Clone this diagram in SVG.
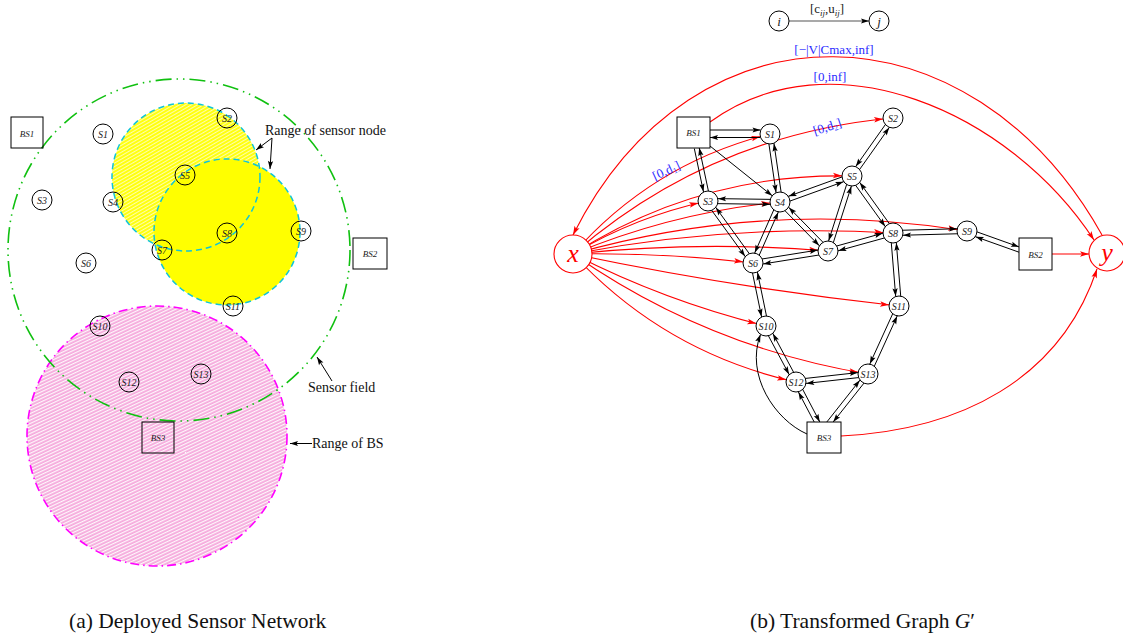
<svg xmlns="http://www.w3.org/2000/svg" width="1123" height="639" viewBox="0 0 1123 639">
<style>
  .nl { font-family: "Liberation Serif", "DejaVu Serif", serif; font-style: italic; font-size: 10px; fill: #222; text-anchor: middle; }
  .bl { font-family: "Liberation Serif", "DejaVu Serif", serif; font-style: italic; font-size: 9px; fill: #222; text-anchor: middle; }
  .leg { font-family: "Liberation Serif", "DejaVu Serif", serif; font-size: 13px; fill: #222; text-anchor: middle; }
  .nc { fill: none; stroke: #000; stroke-width: 1; }
  .ncw { fill: #fff; stroke: #000; stroke-width: 1; }
  .lbl { font-family: "Liberation Serif", "DejaVu Serif", serif; font-size: 14px; fill: #111; }
  .blue { font-family: "Liberation Serif", "DejaVu Serif", serif; font-size: 13px; fill: #2b2bff; text-anchor: middle; }
  .cap { font-family: "Liberation Serif", "DejaVu Serif", serif; font-size: 21.5px; fill: #111; }
  .c { fill: none; stroke: #000; stroke-width: 1; marker-end: url(#ah10); }
  .cr { fill: none; stroke: #000; stroke-width: 1; marker-end: url(#ah); }
  .r { fill: none; stroke: #ff0000; stroke-width: 1.1; marker-end: url(#rh10); }
  .rr { fill: none; stroke: #ff0000; stroke-width: 1.1; marker-end: url(#rh); }
  .xy { font-family: "Liberation Serif", "DejaVu Serif", serif; font-style: italic; font-size: 26px; fill: #ff0000; text-anchor: middle; }
</style>
<defs>
  <marker id="ah" markerUnits="userSpaceOnUse" viewBox="-20 -10 20 20" markerWidth="20" markerHeight="20" refX="0" refY="0" orient="auto" overflow="visible">
    <path d="M0,0 L-8,-2.6 L-6.5,0 L-8,2.6 Z" fill="#000"/>
  </marker>
  <marker id="ah10" markerUnits="userSpaceOnUse" viewBox="-30 -10 30 20" markerWidth="30" markerHeight="20" refX="0" refY="0" orient="auto" overflow="visible">
    <path d="M-10,0 L-18,-2.6 L-16.5,0 L-18,2.6 Z" fill="#000"/>
  </marker>
  <marker id="rh" markerUnits="userSpaceOnUse" viewBox="-20 -10 20 20" markerWidth="20" markerHeight="20" refX="0" refY="0" orient="auto" overflow="visible">
    <path d="M0,0 L-9,-2.8 L-7,0 L-9,2.8 Z" fill="#ff0000"/>
  </marker>
  <marker id="rh10" markerUnits="userSpaceOnUse" viewBox="-30 -10 30 20" markerWidth="30" markerHeight="20" refX="0" refY="0" orient="auto" overflow="visible">
    <path d="M-10,0 L-19,-2.8 L-17,0 L-19,2.8 Z" fill="#ff0000"/>
  </marker>
  <pattern id="yhatch" width="8" height="3" patternUnits="userSpaceOnUse" patternTransform="rotate(-30)">
    <rect width="8" height="3" fill="#ffff10"/>
    <line x1="0" y1="0.5" x2="8" y2="0.5" stroke="#ffffff" stroke-width="0.8" stroke-opacity="0.8"/>
  </pattern>
  <pattern id="phatch" width="8" height="3" patternUnits="userSpaceOnUse" patternTransform="rotate(-25)">
    <rect width="8" height="3" fill="#f5a9dc"/>
    <line x1="0" y1="0.6" x2="8" y2="0.6" stroke="#ffffff" stroke-width="1.2" stroke-opacity="0.9"/>
  </pattern>
</defs>
<rect width="1123" height="639" fill="#fff"/>

<!-- ================= (a) Deployed Sensor Network ================= -->
<g id="ranges">
  <circle cx="157" cy="436" r="130" fill="url(#phatch)"/>
  <circle cx="186" cy="177" r="74" fill="url(#yhatch)"/>
  <circle cx="227" cy="232" r="73" fill="#ffff00"/>
  <circle cx="186" cy="177" r="74" fill="none" stroke="#10c4d8" stroke-width="1.5" stroke-dasharray="6 4"/>
  <circle cx="227" cy="232" r="73" fill="none" stroke="#10c4d8" stroke-width="1.5" stroke-dasharray="6 4"/>
  <circle cx="157" cy="436" r="130" fill="none" stroke="#ff00ff" stroke-width="1.6" stroke-dasharray="9 4 1.5 4"/>
  <circle cx="179" cy="250" r="171" fill="none" stroke="#10c010" stroke-width="1.6" stroke-dasharray="16 5 1.5 5 1.5 5"/>
</g>

<g id="a-BS1"><rect x="11" y="117" width="32" height="31" class="nc"/><text x="27" y="137" class="bl">BS1</text></g>
<g id="a-S1"><circle cx="103" cy="134" r="10" class="nc"/><text x="103" y="137.5" class="nl">S1</text></g>
<g id="a-S2"><circle cx="227" cy="118" r="10" class="nc"/><text x="227" y="121.5" class="nl">S2</text></g>
<g id="a-S3"><circle cx="42" cy="200" r="10" class="nc"/><text x="42" y="203.5" class="nl">S3</text></g>
<g id="a-S4"><circle cx="113" cy="202" r="10" class="nc"/><text x="113" y="205.5" class="nl">S4</text></g>
<g id="a-S5"><circle cx="185" cy="175" r="10" class="nc"/><text x="185" y="178.5" class="nl">S5</text></g>
<g id="a-S6"><circle cx="86" cy="263" r="10" class="nc"/><text x="86" y="266.5" class="nl">S6</text></g>
<g id="a-S7"><circle cx="162" cy="250" r="10" class="nc"/><text x="162" y="253.5" class="nl">S7</text></g>
<g id="a-S8"><circle cx="227" cy="233" r="10" class="nc"/><text x="227" y="236.5" class="nl">S8</text></g>
<g id="a-S9"><circle cx="301" cy="231" r="10" class="nc"/><text x="301" y="234.5" class="nl">S9</text></g>
<g id="a-BS2"><rect x="353" y="238" width="34" height="31" class="nc"/><text x="370" y="257" class="bl">BS2</text></g>
<g id="a-S10"><circle cx="100" cy="326" r="10" class="nc"/><text x="100" y="329.5" class="nl">S10</text></g>
<g id="a-S11"><circle cx="233" cy="306" r="10" class="nc"/><text x="233" y="309.5" class="nl">S11</text></g>
<g id="a-S12"><circle cx="129" cy="382" r="10" class="nc"/><text x="129" y="385.5" class="nl">S12</text></g>
<g id="a-S13"><circle cx="201" cy="374" r="10" class="nc"/><text x="201" y="377.5" class="nl">S13</text></g>
<g id="a-BS3"><rect x="142" y="422" width="32" height="31" class="nc"/><text x="158" y="441" class="bl">BS3</text></g>

<g id="a-annotations">
  <text x="265" y="135" class="lbl">Range of sensor node</text>
  <path d="M272,138 L256,150" class="cr"/>
  <path d="M272,138 L270,169" class="cr"/>
  <text x="308" y="392" class="lbl">Sensor field</text>
  <path d="M332,381 L317,357" class="cr"/>
  <text x="312" y="448" class="lbl">Range of BS</text>
  <path d="M312,443.5 L290,443.5" class="cr"/>
</g>

<!-- ================= (b) Transformed Graph ================= -->
<g id="legend">
  <path d="M789,21 L869,21" fill="none" stroke="#555" stroke-width="1.2" marker-end="url(#ah)"/>
  <text x="827" y="13" class="leg">[c<tspan font-style="italic" font-size="9" dy="3">ij</tspan><tspan dy="-3">,u</tspan><tspan font-style="italic" font-size="9" dy="3">ij</tspan><tspan dy="-3">]</tspan></text>
  <g id="leg-i"><circle cx="779" cy="21" r="10" class="ncw"/><text x="779" y="25.5" class="leg" font-style="italic">i</text></g>
  <g id="leg-j"><circle cx="879" cy="21" r="10" class="ncw"/><text x="879" y="25.5" class="leg" font-style="italic">j</text></g>
</g>

<g id="connectors">
  <!-- red: x to sensors -->
  <path class="r" d="M573,254 Q652.8,163.3 770,134"/>
  <path class="r" d="M573,254 Q711,134.5 893,118"/>
  <path class="r" d="M573,254 Q636.1,216.3 708,201"/>
  <path class="r" d="M573,254 Q672.6,212.5 780,202"/>
  <path class="r" d="M573,254 Q700.7,172.6 852,176"/>
  <path class="r" d="M573,254 Q767.4,198.6 967,231"/>
  <path class="r" d="M573,254 Q731.7,223.5 893,233"/>
  <path class="r" d="M573,254 Q700.4,240.5 828,251"/>
  <path class="r" d="M573,254 Q663.3,252.5 753,263"/>
  <path class="r" d="M573,254 Q734.7,287.9 899,306"/>
  <path class="r" d="M573,254 Q665.3,301.2 766,326"/>
  <path class="r" d="M573,254 Q706.9,347.3 868,374"/>
  <path class="r" d="M573,254 Q664.6,352.7 796,382"/>
  <!-- red: to / from y -->
  <path class="rr" d="M1102,235 C970.8,1 693.7,-6.4 573,235"/>
  <path class="rr" d="M710,122 C831.5,34 1009.5,111 1094,240"/>
  <path class="rr" d="M1052,254 L1089,254"/>
  <path class="rr" d="M841,436 C960,430 1060,380 1097,269"/>

  <!-- black pairs -->
  <path class="cr" d="M710,130 L760.5,130"/>
  <path class="cr" d="M760.5,137.5 L710,137.5"/>
  <path class="c" d="M694.3,148.5 L705.55,201.5"/>
  <path class="cr" d="M710.45,200.5 L699.2,147.8"/>
  <path class="c" d="M710,146 L780,202"/>
  <path class="c" d="M767.5,134.4 L777.5,202.4"/>
  <path class="c" d="M782.5,201.6 L772.5,133.6"/>
  <path class="c" d="M891,116.6 L850,174.6"/>
  <path class="c" d="M854,177.4 L895,119.4"/>
  <path class="c" d="M708,203.5 L780,204.5"/>
  <path class="c" d="M780,199.5 L708,198.5"/>
  <path class="c" d="M706,202.5 L751,264.5"/>
  <path class="c" d="M755,261.5 L710,199.5"/>
  <path class="c" d="M780.85,204.35 L852.85,178.35"/>
  <path class="c" d="M851.15,173.65 L779.15,199.65"/>
  <path class="c" d="M777.7,201 L750.7,262"/>
  <path class="c" d="M755.3,264 L782.3,203"/>
  <path class="c" d="M778.2,203.75 L826.2,252.75"/>
  <path class="c" d="M829.8,249.25 L781.8,200.25"/>
  <path class="c" d="M849.6,175.25 L825.6,250.25"/>
  <path class="c" d="M830.4,251.75 L854.4,176.75"/>
  <path class="c" d="M850,177.5 L891,234.5"/>
  <path class="c" d="M895,231.5 L854,174.5"/>
  <path class="c" d="M752.6,260.5 L827.6,248.5"/>
  <path class="c" d="M828.4,253.5 L753.4,265.5"/>
  <path class="c" d="M827.3,248.6 L892.3,230.6"/>
  <path class="c" d="M893.7,235.4 L828.7,253.4"/>
  <path class="c" d="M893,230.5 L967,228.5"/>
  <path class="c" d="M967,233.5 L893,235.5"/>
  <path class="c" d="M890.5,233.2 L896.5,306.2"/>
  <path class="c" d="M901.5,305.8 L895.5,232.8"/>
  <path class="cr" d="M967.8,228.6 L1019,246.9"/>
  <path class="c" d="M1019,252.2 L966.2,233.4"/>
  <path class="c" d="M750.55,263.5 L763.55,326.5"/>
  <path class="c" d="M768.45,325.5 L755.45,262.5"/>
  <path class="c" d="M763.8,327.2 L793.8,383.2"/>
  <path class="c" d="M798.2,380.8 L768.2,324.8"/>
  <path class="c" d="M896.7,305 L865.7,373"/>
  <path class="c" d="M870.3,375 L901.3,307"/>
  <path class="c" d="M795.7,379.5 L867.7,371.5"/>
  <path class="c" d="M868.3,376.5 L796.3,384.5"/>
  <path class="cr" d="M798.2,380.8 L819.8,422"/>
  <path class="c" d="M814.2,422 L793.8,383.2"/>
  <path class="c" d="M826.8,422 L866,372.5"/>
  <path class="cr" d="M870,375.5 L833.2,422"/>
  <path class="cr" d="M807,434 C775,420 745,375 760.5,334.5"/>
</g>

<g id="edge-labels">
  <text x="834" y="54" class="blue">[−|V|Cmax,inf]</text>
  <text x="830" y="81" class="blue">[0,inf]</text>
  <text x="666" y="175" class="blue" transform="rotate(-25 666 170)">[0,d<tspan font-size="8" dy="2">1</tspan><tspan dy="-2">]</tspan></text>
  <text x="827" y="131" class="blue" transform="rotate(-18 827 126)">[0,d<tspan font-size="8" dy="2">2</tspan><tspan dy="-2">]</tspan></text>
</g>

<g id="b-x"><circle cx="573" cy="254" r="19" fill="#fff" stroke="#ff0000" stroke-width="1.1"/><text x="573" y="262" class="xy">x</text></g>
<g id="b-y"><circle cx="1107" cy="253" r="18" fill="#fff" stroke="#ff0000" stroke-width="1.1"/><text x="1107" y="261" class="xy">y</text></g>
<g id="b-BS1"><rect x="677" y="117" width="33" height="31" class="ncw"/><text x="693.5" y="136" class="bl">BS1</text></g>
<g id="b-S1"><circle cx="770" cy="134" r="10" class="ncw"/><text x="770" y="137.5" class="nl">S1</text></g>
<g id="b-S2"><circle cx="893" cy="118" r="10" class="ncw"/><text x="893" y="121.5" class="nl">S2</text></g>
<g id="b-S3"><circle cx="708" cy="201" r="10" class="ncw"/><text x="708" y="204.5" class="nl">S3</text></g>
<g id="b-S4"><circle cx="780" cy="202" r="10" class="ncw"/><text x="780" y="205.5" class="nl">S4</text></g>
<g id="b-S5"><circle cx="852" cy="176" r="10" class="ncw"/><text x="852" y="179.5" class="nl">S5</text></g>
<g id="b-S6"><circle cx="753" cy="263" r="10" class="ncw"/><text x="753" y="266.5" class="nl">S6</text></g>
<g id="b-S7"><circle cx="828" cy="251" r="10" class="ncw"/><text x="828" y="254.5" class="nl">S7</text></g>
<g id="b-S8"><circle cx="893" cy="233" r="10" class="ncw"/><text x="893" y="236.5" class="nl">S8</text></g>
<g id="b-S9"><circle cx="967" cy="231" r="10" class="ncw"/><text x="967" y="234.5" class="nl">S9</text></g>
<g id="b-BS2"><rect x="1019" y="238" width="33" height="32" class="ncw"/><text x="1035.5" y="257.5" class="bl">BS2</text></g>
<g id="b-S10"><circle cx="766" cy="326" r="10" class="ncw"/><text x="766" y="329.5" class="nl">S10</text></g>
<g id="b-S11"><circle cx="899" cy="306" r="10" class="ncw"/><text x="899" y="309.5" class="nl">S11</text></g>
<g id="b-S12"><circle cx="796" cy="382" r="10" class="ncw"/><text x="796" y="385.5" class="nl">S12</text></g>
<g id="b-S13"><circle cx="868" cy="374" r="10" class="ncw"/><text x="868" y="377.5" class="nl">S13</text></g>
<g id="b-BS3"><rect x="807" y="422" width="34" height="31" class="ncw"/><text x="824" y="441" class="bl">BS3</text></g>

<g id="captions">
  <text x="69" y="628" class="cap">(a) Deployed Sensor Network</text>
  <text x="750" y="628" class="cap">(b) Transformed Graph <tspan font-style="italic">G</tspan>′</text>
</g>
</svg>
